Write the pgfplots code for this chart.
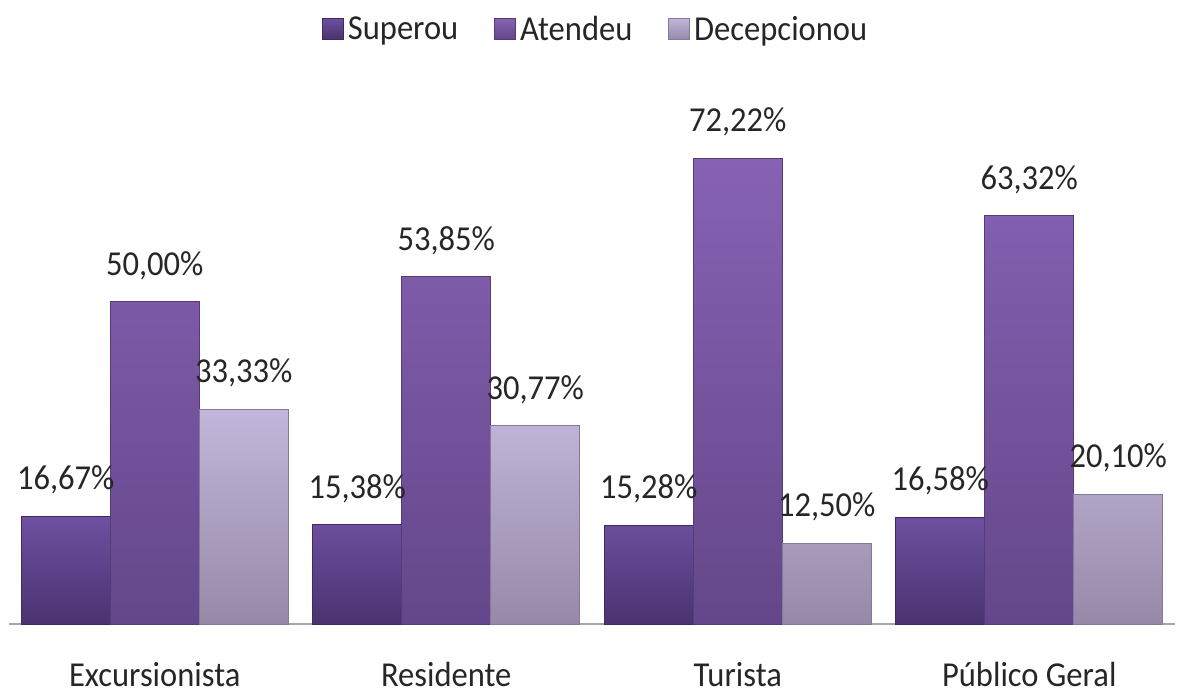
\documentclass[border=0pt]{standalone}
\usepackage{pgfplots}
\pgfplotsset{compat=1.18}
\usepackage{fontspec}
\setmainfont{Carlito}[FakeStretch=0.93]
\definecolor{supT}{HTML}{6D50A0}
\definecolor{supB}{HTML}{4A3370}
\definecolor{supE}{HTML}{3E2A60}
\definecolor{ateT}{HTML}{8762B4}
\definecolor{ateB}{HTML}{64478A}
\definecolor{ateE}{HTML}{553C78}
\definecolor{decT}{HTML}{C2B6DA}
\definecolor{decB}{HTML}{9689A8}
\definecolor{decE}{HTML}{85789A}
\newcommand{\fs}{\fontsize{17.5}{21}\selectfont}
\begin{document}
\begin{tikzpicture}
\begin{axis}[
  name=ax, at={(0,0)}, anchor=south west,
  scale only axis, width=583pt, height=256pt,
  ymin=0, ymax=79.4, xmin=-0.5, xmax=3.5,
  ybar=0pt, bar width=44.5pt,
  axis y line=none, axis x line*=bottom,
  x axis line style={draw=gray!70, line width=0.8pt},
  xtick={0,1,2,3},
  xticklabels={Excursionista,Residente,Turista,Público Geral},
  xtick style={draw=none},
  xticklabel style={font=\fs, text=black!85, yshift=-11.5pt},
  nodes near coords={\pgfmathprintnumber[fixed,fixed zerofill,precision=2,use comma,assume math mode=true]{\pgfplotspointmeta}\%},
  every node near coord/.append style={font=\fs, text=black!85, yshift=7.5pt},
  legend columns=3,
  legend style={at={(0.504,1.16)}, anchor=center, draw=none, fill=none, font=\fs, text=black!85,
    /tikz/every even column/.append style={column sep=16pt}},
  legend image code/.code={\draw[#1] (0pt,-4.5pt) rectangle (10.5pt,6pt);},
]
\addplot[draw=supE, top color=supT, bottom color=supB] coordinates {(0,16.67) (1,15.38) (2,15.28) (3,16.58)};
\addplot[draw=ateE, top color=ateT, bottom color=ateB] coordinates {(0,50.00) (1,53.85) (2,72.22) (3,63.32)};
\addplot[draw=decE, top color=decT, bottom color=decB] coordinates {(0,33.33) (1,30.77) (2,12.50) (3,20.10)};
\legend{Superou,Atendeu,Decepcionou}
\end{axis}
\pgfresetboundingbox
\path[use as bounding box] ([xshift=-4.5pt,yshift=-34.5pt]ax.south west) rectangle ([xshift=2pt,yshift=56pt]ax.north east);
\end{tikzpicture}
\end{document}
